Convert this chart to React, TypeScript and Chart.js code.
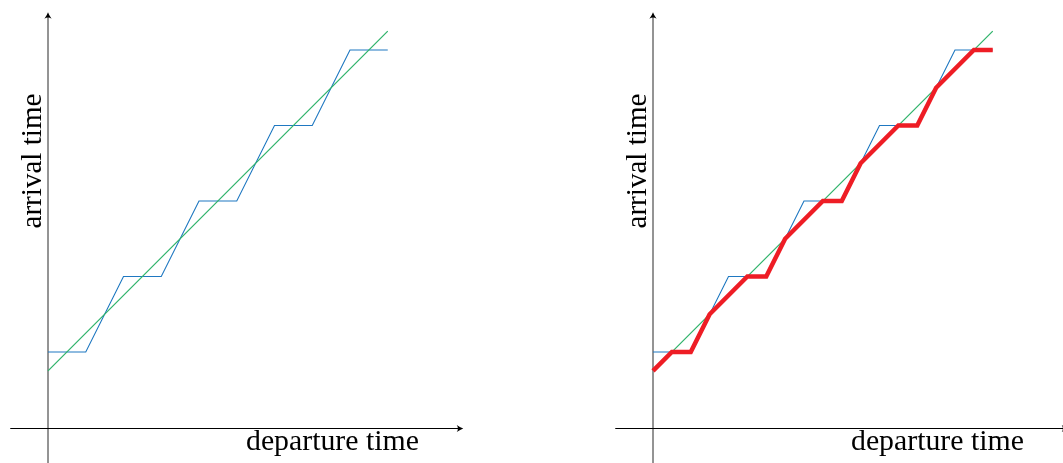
import React, { useEffect, useRef } from "react";
import { Chart, registerables } from "chart.js";

Chart.register(...registerables);

// ---- data (axis units) ----
const stepDeparture = [0, 1, 2, 3, 4, 5, 6, 7, 8, 9];
const stepArrival = [2, 2, 4, 4, 6, 6, 8, 8, 10, 10];
const linearDeparture = [0, 9];
const linearArrival = [1.5, 10.5];
const minDeparture = [0, 0.5, 1, 1.5, 2.5, 3, 3.5, 4.5, 5, 5.5, 6.5, 7, 7.5, 8.5, 9];
const minArrival = [1.5, 2, 2, 3, 4, 4, 5, 6, 6, 7, 8, 8, 9, 10, 10];
const xLabel = "departure time";
const yLabel = "arrival time";

const X_MIN = -1;
const X_MAX = 11;
const Y_MIN = -0.94;
const Y_MAX = 11;

const CW = 560;
const CH = 463;

const pts = (xs: number[], ys: number[]) => xs.map((x, i) => ({ x, y: ys[i] }));

function drawArrow(ctx: CanvasRenderingContext2D, x: number, y: number, angle: number) {
  ctx.save();
  ctx.translate(x, y);
  ctx.rotate(angle);
  ctx.beginPath();
  ctx.moveTo(0, 0);
  ctx.quadraticCurveTo(-3, -1, -6.5, -3.6);
  ctx.quadraticCurveTo(-4.2, 0, -6.5, 3.6);
  ctx.quadraticCurveTo(-3, 1, 0, 0);
  ctx.closePath();
  ctx.fillStyle = "#000";
  ctx.fill();
  ctx.restore();
}

function fitText(ctx: CanvasRenderingContext2D, text: string, target: number) {
  ctx.font = '20px "Liberation Serif"';
  const w = ctx.measureText(text).width;
  const size = (20 * target) / w;
  ctx.font = `${size}px "Liberation Serif"`;
}

const axesPlugin = {
  id: "customAxes",
  beforeDatasetsDraw(chart: any) {
    const ctx: CanvasRenderingContext2D = chart.ctx;
    const xs = chart.scales.x;
    const ys = chart.scales.y;
    const ox = xs.getPixelForValue(0);
    const oy = ys.getPixelForValue(0);
    const xl = xs.getPixelForValue(X_MIN);
    const xr = xs.getPixelForValue(X_MAX);
    const yt = ys.getPixelForValue(Y_MAX);
    const yb = ys.getPixelForValue(Y_MIN);
    ctx.save();
    ctx.strokeStyle = "#111";
    ctx.lineWidth = 0.9;
    ctx.beginPath();
    ctx.moveTo(ox, yb);
    ctx.lineTo(ox, yt + 3);
    ctx.stroke();
    drawArrow(ctx, ox, yt, -Math.PI / 2);
    ctx.strokeStyle = "#000";
    ctx.lineWidth = 1;
    ctx.beginPath();
    ctx.moveTo(xl, Math.round(oy) + 0.5);
    ctx.lineTo(xr - 3, Math.round(oy) + 0.5);
    ctx.stroke();
    drawArrow(ctx, xr, Math.round(oy) + 0.5, 0);

    ctx.fillStyle = "#000";
    fitText(ctx, xLabel, 173);
    ctx.textAlign = "left";
    ctx.textBaseline = "alphabetic";
    ctx.fillText(xLabel, ox + 198, oy + 22);

    fitText(ctx, yLabel, 135);
    ctx.translate(ox - 7, oy - 266.5);
    ctx.rotate(-Math.PI / 2);
    ctx.textAlign = "center";
    ctx.fillText(yLabel, 0, 0);
    ctx.restore();
  },
};

function Panel({ showMin, left }: { showMin: boolean; left: number }) {
  const ref = useRef<HTMLCanvasElement | null>(null);
  useEffect(() => {
    if (!ref.current) return;
    const datasets: any[] = [];
    if (showMin) {
      datasets.push({
        data: pts(minDeparture, minArrival),
        borderColor: "#ee1d25",
        backgroundColor: "#ee1d25",
        borderWidth: 4.5,
        showLine: true,
        pointRadius: 0,
        fill: false,
        order: 0,
        borderJoinStyle: "miter",
      });
    }
    datasets.push(
      {
        data: pts(linearDeparture, linearArrival),
        borderColor: "#2fb36a",
        backgroundColor: "#2fb36a",
        borderWidth: 1.25,
        showLine: true,
        pointRadius: 0,
        fill: false,
        order: 1,
      },
      {
        data: pts(stepDeparture, stepArrival),
        borderColor: "#1f78c1",
        backgroundColor: "#1f78c1",
        borderWidth: 1.1,
        showLine: true,
        pointRadius: 0,
        fill: false,
        order: 2,
      }
    );
    const chart = new Chart(ref.current, {
      type: "scatter",
      data: { datasets },
      options: {
        responsive: false,
        animation: false,
        devicePixelRatio: 1,
        layout: { padding: { left: 10.25, top: 12.25, right: CW - 463.25, bottom: 0 } },
        scales: {
          x: { type: "linear", display: false, min: X_MIN, max: X_MAX },
          y: { type: "linear", display: false, min: Y_MIN, max: Y_MAX },
        },
        plugins: { legend: { display: false }, tooltip: { enabled: false }, colors: { enabled: false } },
        events: [],
      } as any,
      plugins: [axesPlugin],
    });
    return () => chart.destroy();
  }, [showMin]);
  return (
    <canvas
      ref={ref}
      width={CW}
      height={CH}
      style={{ position: "absolute", left, top: 0, width: CW, height: CH, display: "block" }}
    />
  );
}

export default function App() {
  return (
    <div
      style={{
        position: "absolute",
        left: 0,
        top: 0,
        width: 1063,
        height: 463,
        overflow: "hidden",
        background: "#fff",
      }}
    >
      <Panel showMin={false} left={0} />
      <Panel showMin={true} left={605} />
    </div>
  );
}
